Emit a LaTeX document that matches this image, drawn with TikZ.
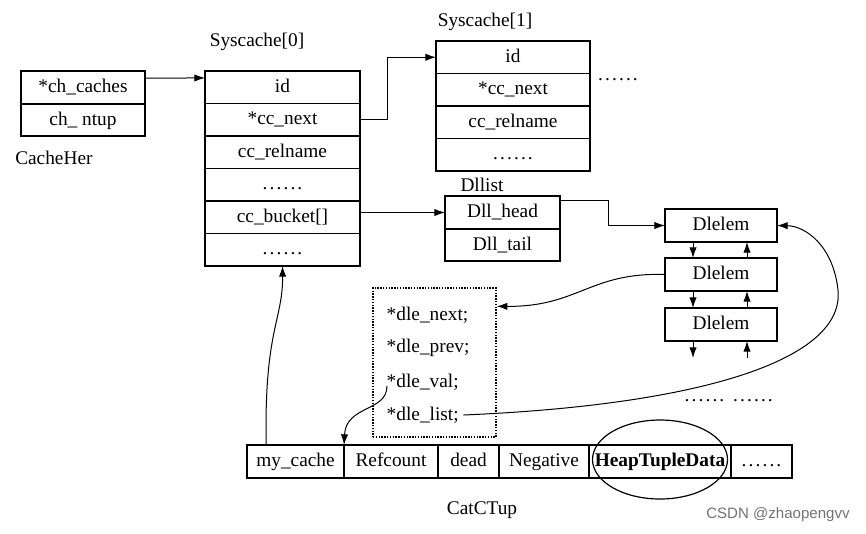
\documentclass[tikz,border=0pt]{standalone}
\usepackage{fontspec}
\setmainfont{Liberation Serif}
\newfontfamily\markfont{Liberation Sans}
\usetikzlibrary{positioning,arrows.meta,shapes.geometric}
\newcommand{\pxu}{0.75pt}
\newcommand{\sixdots}{.\kern1.6pt.\kern1.6pt.\kern1.6pt.\kern1.6pt.\kern1.6pt.}
\tikzset{
  field/.style={draw, line width=1.3pt, inner sep=0pt, outer sep=0pt, minimum height=32.5*\pxu,
                text height=2ex, text depth=0.3ex},
  link/.style={-{Latex[length=8pt,width=5.5pt]}, line width=0.75pt},
  caption/.style={inner sep=0pt},
}
\begin{document}
\begin{tikzpicture}[x=0.75pt, y=-0.75pt, font=\fontsize{14.5}{17}\selectfont]
    \useasboundingbox (0,0) rectangle (866,533);

    \node[field, minimum width=124*\pxu] (chcaches) at (83,87.5) {*ch\_caches};
    \node[field, minimum width=124*\pxu, below=0pt of chcaches] (chntup) {ch\_ ntup};
    \node[caption, anchor=west] (cachehername) at (15,158) {CacheHer};

    \node[caption] (s0name) at (257,42) {Syscache[0]};
    \node[field, minimum width=155*\pxu] (s0id) at (282.5,87.25) {id};
    \node[field, minimum width=155*\pxu, below=0pt of s0id] (s0next) {*cc\_next};
    \node[field, minimum width=155*\pxu, below=0pt of s0next] (s0rel) {cc\_relname};
    \node[field, minimum width=155*\pxu, below=0pt of s0rel] (s0dots) {\sixdots};
    \node[field, minimum width=155*\pxu, below=0pt of s0dots] (s0bucket) {cc\_bucket[]};
    \node[field, minimum width=155*\pxu, below=0pt of s0bucket] (s0more) {\sixdots};

    \node[caption] (s1name) at (485,22) {Syscache[1]};
    \node[field, minimum width=154*\pxu] (s1id) at (513,57.25) {id};
    \node[field, minimum width=154*\pxu, below=0pt of s1id] (s1next) {*cc\_next};
    \node[field, minimum width=154*\pxu, below=0pt of s1next] (s1rel) {cc\_relname};
    \node[field, minimum width=154*\pxu, below=0pt of s1rel] (s1dots) {\sixdots};
    \node[caption] (s1more) at (618,80) {\sixdots};

    \node[caption] (dllistname) at (482,185) {Dllist};
    \node[field, minimum width=115*\pxu] (dhead) at (502.5,212.5) {Dll\_head};
    \node[field, minimum width=115*\pxu, below=0pt of dhead] (dtail) {Dll\_tail};

    \node[field, minimum width=112*\pxu, minimum height=33*\pxu] (e1) at (721,225.5) {Dlelem};
    \node[field, minimum width=112*\pxu, minimum height=33*\pxu] (e2) at (721,274.5) {Dlelem};
    \node[field, minimum width=112*\pxu, minimum height=33*\pxu] (e3) at (721,324.5) {Dlelem};
    \coordinate (e3down) at (693,358);
    \coordinate (e3up) at (747,358);
    \node[caption] (tailmore1) at (704.5,401) {\sixdots};
    \node[caption] (tailmore2) at (753,401) {\sixdots};

    \node[draw, densely dotted, line width=1.1pt, minimum width=123*\pxu, minimum height=149*\pxu] (dlebox) at (434.5,362.5) {};
    \node[anchor=west] (dnext) at (382,315) {*dle\_next;};
    \node[anchor=west] (dprev) at (382,348) {*dle\_prev;};
    \node[anchor=west] (dval) at (382,382) {*dle\_val;};
    \node[anchor=west] (dlist) at (382,415) {*dle\_list;};

    \node[field, minimum width=97*\pxu, minimum height=33*\pxu] (mycache) at (295.5,461.5) {my\_cache};
    \node[field, minimum width=94*\pxu, minimum height=33*\pxu, right=0pt of mycache] (refcount) {Refcount};
    \node[field, minimum width=61*\pxu, minimum height=33*\pxu, right=0pt of refcount] (dead) {dead};
    \node[field, minimum width=90*\pxu, minimum height=33*\pxu, right=0pt of dead] (negative) {Negative};
    \node[field, minimum width=142*\pxu, minimum height=33*\pxu, right=0pt of negative] (heap) {\textbf{HeapTupleData}};
    \node[field, minimum width=61*\pxu, minimum height=33*\pxu, right=0pt of heap] (tupmore) {\sixdots};
    \node[draw, ellipse, line width=0.9pt, minimum width=135*\pxu, minimum height=79*\pxu] (heapring) at (660,459.5) {};
    \node[caption] (catctupname) at (482,510) {CatCTup};

    \node[caption, font=\markfont\fontsize{11.3}{13}\selectfont, text=black!55] (watermark) at (778,515) {CSDN @zhaopengvv};

    \draw[link] ([yshift=7pt]chcaches.east) -- ([yshift=7pt]s0id.west);
    \draw[link] (s0next.east) -- ++(27,0) |- (s1id.west);
    \draw[link] (s0bucket.east |- dhead.west) -- (dhead.west);
    \draw[link] ([yshift=9pt]dhead.east) -- ++(48,0) |- (e1.west);

    \draw[link] ([xshift=-21pt]e1.south) -- ([xshift=-21pt]e2.north);
    \draw[link] ([xshift=19.5pt]e2.north) -- ([xshift=19.5pt]e1.south);
    \draw[link] ([xshift=-21pt]e2.south) -- ([xshift=-21pt]e3.north);
    \draw[link] ([xshift=19.5pt]e3.north) -- ([xshift=19.5pt]e2.south);
    \draw[link] (e3.south -| e3down) -- (e3down);
    \draw[link] (e3up) -- (e3.south -| e3up);

    \draw[link] (e2.west) .. controls (590,272) and (578,307) .. ([yshift=-14.25pt]dlebox.north east);
    \draw[link] ([shift={(5,4)}]dval.west) .. controls (387,412) and (346,405) .. (refcount.north west);
    \draw[link] (dlist.east) .. controls (700,405) and (845,360) .. (838,290)
                .. controls (833,245) and (805,226) .. (e1.east);
    \draw[link] ([xshift=-22pt]mycache.north) .. controls (264,330) and (283,320) .. (s0more.south);
\end{tikzpicture}
\end{document}
